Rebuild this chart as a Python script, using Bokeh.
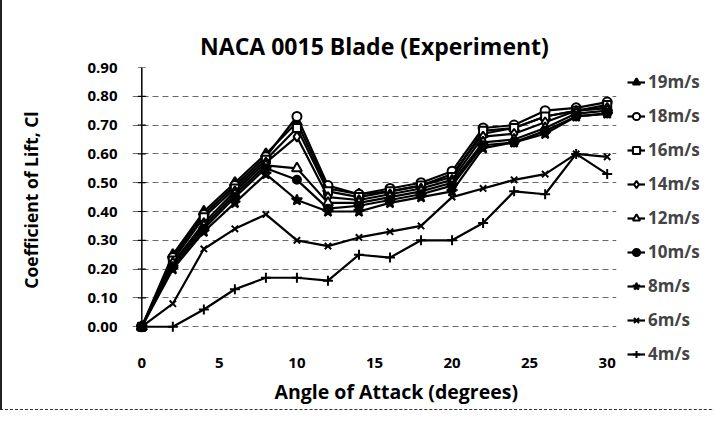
from bokeh.plotting import figure
from bokeh.models import (Range1d, FixedTicker, NumeralTickFormatter, Legend, LegendItem, Title)
from bokeh.embed import file_html
from bokeh.resources import INLINE

# ---- data ----
angle = [0, 2, 4, 6, 8, 10, 12, 14, 16, 18, 20, 22, 24, 26, 28, 30]
cl_19 = [0, 0.25, 0.40, 0.50, 0.60, 0.71, 0.48, 0.46, 0.47, 0.49, 0.53, 0.67, 0.69, 0.73, 0.75, 0.76]
cl_18 = [0, 0.24, 0.39, 0.49, 0.59, 0.73, 0.49, 0.46, 0.48, 0.50, 0.54, 0.69, 0.70, 0.75, 0.76, 0.78]
cl_16 = [0, 0.23, 0.38, 0.48, 0.58, 0.69, 0.47, 0.45, 0.47, 0.49, 0.52, 0.68, 0.69, 0.73, 0.75, 0.77]
cl_14 = [0, 0.22, 0.36, 0.47, 0.57, 0.66, 0.45, 0.44, 0.46, 0.48, 0.51, 0.66, 0.67, 0.71, 0.75, 0.76]
cl_12 = [0, 0.22, 0.35, 0.46, 0.56, 0.55, 0.43, 0.43, 0.45, 0.47, 0.50, 0.64, 0.65, 0.69, 0.74, 0.75]
cl_10 = [0, 0.21, 0.34, 0.45, 0.55, 0.51, 0.41, 0.42, 0.44, 0.46, 0.49, 0.63, 0.64, 0.68, 0.73, 0.74]
cl_8 = [0, 0.20, 0.33, 0.43, 0.53, 0.44, 0.40, 0.40, 0.43, 0.45, 0.47, 0.62, 0.64, 0.67, 0.73, 0.74]
cl_6 = [0, 0.08, 0.27, 0.34, 0.39, 0.30, 0.28, 0.31, 0.33, 0.35, 0.45, 0.48, 0.51, 0.53, 0.60, 0.59]
cl_4 = [0, 0.00, 0.06, 0.13, 0.17, 0.17, 0.16, 0.25, 0.24, 0.30, 0.30, 0.36, 0.47, 0.46, 0.60, 0.53]

series_labels = ["19m/s", "18m/s", "16m/s", "14m/s", "12m/s", "10m/s", "8m/s", "6m/s", "4m/s"]
series_values = [cl_19, cl_18, cl_16, cl_14, cl_12, cl_10, cl_8, cl_6, cl_4]
x_ticks = [0, 5, 10, 15, 20, 25, 30]
y_ticks = [0.0, 0.1, 0.2, 0.3, 0.4, 0.5, 0.6, 0.7, 0.8, 0.9]

# ---- styles ----
markers = ["triangle", "circle", "square", "diamond", "triangle", "circle", "star", "x", "cross"]
filled = [True, False, False, False, False, True, True, True, True]
msizes = [10, 9, 8, 10, 10, 8, 11, 9, 10]
FONT = "Open Sans"

p = figure(frame_width=484, frame_height=265,
           x_range=Range1d(-0.6, 30.6), y_range=Range1d(-0.02, 0.9),
           output_backend="svg", toolbar_location=None,
           min_border_left=130, min_border_right=87,
           min_border_top=67, min_border_bottom=66,
           title="NACA 0015 Blade (Experiment)")
p.outline_line_color = None
p.background_fill_color = "white"
p.border_fill_color = "white"
p.styles = {"border-left": "2px solid #222", "border-bottom": "1px dashed #333"}

p.title.text_font = FONT
p.title.text_font_size = "23px"
p.title.text_font_style = "bold"
p.title.text_color = "black"
p.title.align = "center"
p.title.standoff = 12

# axes
p.xaxis.ticker = FixedTicker(ticks=x_ticks)
p.yaxis.ticker = FixedTicker(ticks=y_ticks)
p.yaxis.formatter = NumeralTickFormatter(format="0.00")
for ax in (p.xaxis, p.yaxis):
    ax.major_label_text_font = FONT
    ax.major_label_text_font_size = "15px"
    ax.major_label_text_font_style = "bold"
    ax.major_label_text_color = "black"
    ax.axis_label_text_font = FONT
    ax.axis_label_text_font_size = "17.5px"
    ax.axis_label_text_font_style = "bold"
    ax.axis_label_text_color = "black"
    ax.minor_tick_line_color = None
    ax.major_tick_line_color = None
    ax.axis_line_color = None

p.yaxis.axis_label = "Coefficient of Lift, Cl"
p.xaxis.major_label_standoff = 19
p.yaxis.major_label_standoff = 9
p.yaxis.axis_label_standoff = 41

xlabel = Title(text="Angle of Attack (degrees)", align="left", offset=142,
               text_font=FONT, text_font_size="19.5px", text_font_style="bold",
               text_color="black", standoff=10)
p.add_layout(xlabel, "below")

p.xgrid.grid_line_color = None
p.ygrid.grid_line_color = "#444444"
p.ygrid.grid_line_alpha = 0.8
p.ygrid.grid_line_dash = "6 4"
p.ygrid.grid_line_width = 1

# vertical axis line at angle 0 with cross ticks
p.segment(x0=[x_ticks[0]], y0=[y_ticks[0]], x1=[x_ticks[0]], y1=[y_ticks[-1]],
          line_color="black", line_width=1.5)
p.scatter([x_ticks[0]] * len(y_ticks), y_ticks, marker="dash", size=8,
          line_color="black", line_width=1.2)

items = []
for lab, vals, mk, fl, ms in zip(series_labels, series_values, markers, filled, msizes):
    r1 = p.line(angle, vals, line_color="black", line_width=2.2)
    r2 = p.scatter(angle, vals, marker=mk, size=ms, line_color="black", line_width=2,
                   fill_color="black" if fl else "white")
    items.append(LegendItem(label=lab, renderers=[r1, r2]))

legend = Legend(items=items, location=(11, -33), orientation="vertical",
                glyph_width=18, glyph_height=20, label_height=20, spacing=11,
                label_standoff=3, padding=2, margin=0,
                label_text_font=FONT, label_text_font_size="17px",
                label_text_font_style="bold",
                background_fill_alpha=0, border_line_color=None)
p.add_layout(legend, "right")

open("out.html", "w").write(file_html(p, INLINE))
